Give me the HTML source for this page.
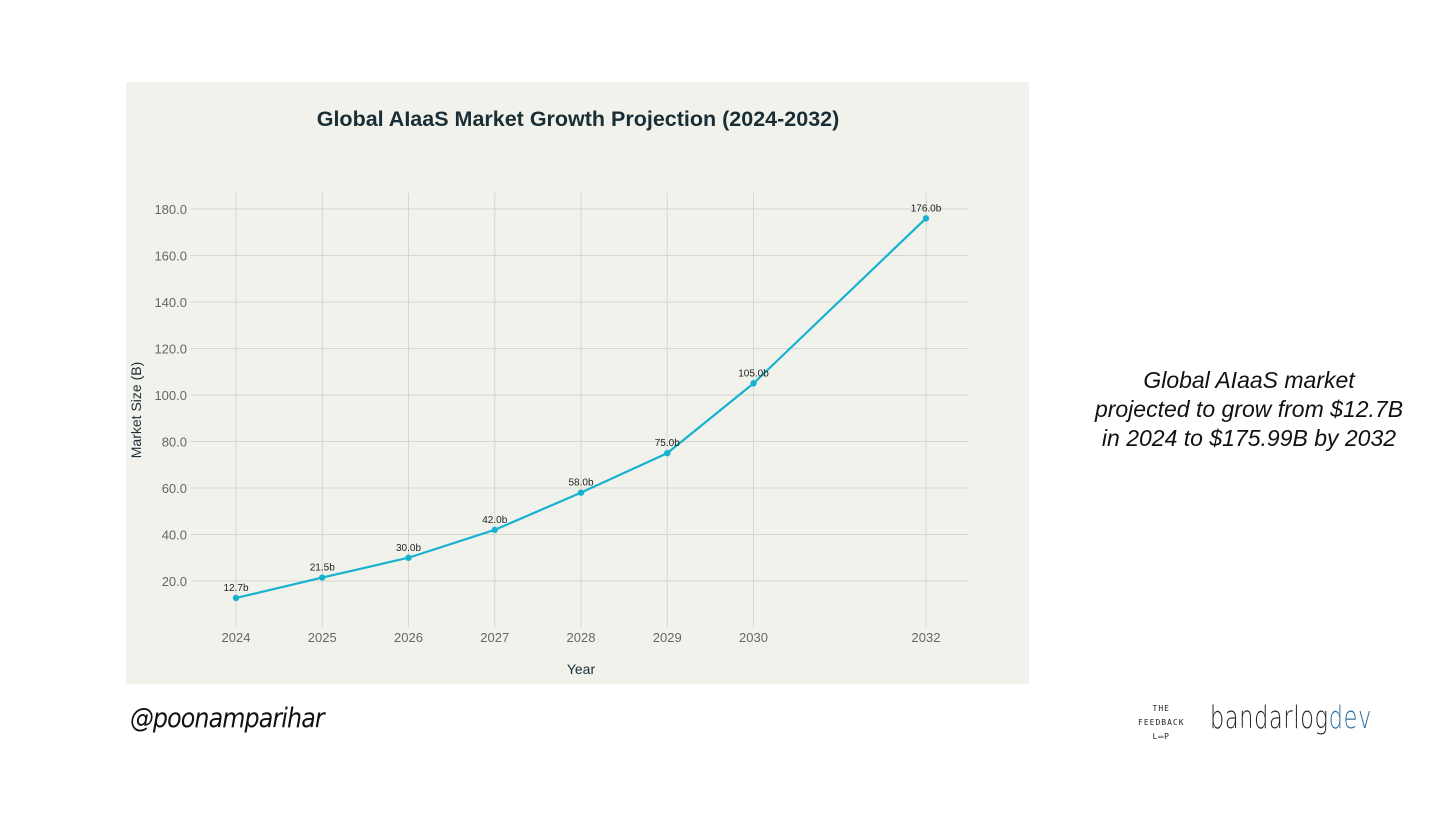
<!DOCTYPE html>
<html><head><meta charset="utf-8"><style>
body{margin:0;width:1456px;height:819px;background:#fff;position:relative;overflow:hidden;font-family:"Liberation Sans",sans-serif}
#panel{position:absolute;left:126px;top:82px;width:903px;height:602px;background:#f2f2ed}
.cap{position:absolute;left:1049px;top:366px;width:400px;text-align:center;font-style:italic;font-size:23px;line-height:29px;color:#111}
</style></head><body>
<div id="panel"></div>
<svg width="1456" height="819" style="position:absolute;left:0;top:0" id="chart">
<text x="578" y="126" text-anchor="middle" font-size="21.5" font-weight="bold" fill="#1a2e35">Global AIaaS Market Growth Projection (2024-2032)</text>
<text x="581" y="674" text-anchor="middle" font-size="14" fill="#1a2e35">Year</text>
<text transform="translate(141,410) rotate(-90)" text-anchor="middle" font-size="14" fill="#1a2e35">Market Size (B)</text>
<g id="grid"></g><g id="series"></g>
</svg>
<div class="cap">Global AIaaS market<br>projected to grow from $12.7B<br>in 2024 to $175.99B by 2032</div>
<div style="position:absolute;left:130px;top:703px;font-size:27px;font-style:italic;font-family:'DejaVu Sans',sans-serif;color:#111;letter-spacing:-1px;transform:scaleX(0.88);transform-origin:left">@poonamparihar</div>
<div style="position:absolute;left:1138px;top:702px;font-size:8px;line-height:14px;text-align:center;letter-spacing:1px;font-family:'DejaVu Sans Mono',monospace;color:#222">THE<br>FEEDBACK<br>L▭P</div>
<div style="position:absolute;left:1210px;top:700px;font-size:31px;color:#222;font-family:'DejaVu Sans',sans-serif;font-weight:200;letter-spacing:1px;transform:scaleX(0.72);transform-origin:left">bandarlog<span style="color:#2e6e9e">dev</span></div>
<script>
const years=[2024,2025,2026,2027,2028,2029,2030,2032];
const values=[12.7,21.5,30.0,42.0,58.0,75.0,105.0,176.0];
const labels=["12.7b","21.5b","30.0b","42.0b","58.0b","75.0b","105.0b","176.0b"];
const yTicks=[20,40,60,80,100,120,140,160,180];
const ns="http://www.w3.org/2000/svg";
const x=v=>236+(v-2024)*86.25;
const y=v=>627.5-v*2.325;
function mk(t,a,p){const e=document.createElementNS(ns,t);for(const k in a)e.setAttribute(k,a[k]);p.appendChild(e);return e;}
const g=document.getElementById('grid'),s=document.getElementById('series');
yTicks.forEach(t=>{
 const l=mk('line',{x1:191,x2:968,y1:y(t),y2:y(t),stroke:'#d6d6d0','stroke-width':1},g);
 
 
 const tx=mk('text',{x:187,y:y(t)+5,'text-anchor':'end','font-size':13,fill:'#666'},g);tx.textContent=t.toFixed(1);
 
 
});
years.forEach(yr=>{
 const l=mk('line',{x1:x(yr),x2:x(yr),y1:193,y2:627,stroke:'#d6d6d0','stroke-width':1},g);
 
 
 const tx=mk('text',{x:x(yr),y:642,'text-anchor':'middle','font-size':13,fill:'#666'},g);tx.textContent=yr;
 
 
});
const line=mk('polyline',{points:years.map((yr,i)=>x(yr)+','+y(values[i])).join(' '),fill:'none',stroke:'#17b2cf','stroke-width':2.2},s);


years.forEach((yr,i)=>{
 const c=mk('circle',{cx:x(yr),cy:y(values[i]),r:3.2,fill:'#17b2cf'},s);
 
 
 const t=mk('text',{x:x(yr),y:y(values[i])-7,'text-anchor':'middle','font-size':10,fill:'#222'},s);t.textContent=labels[i];
 
 
});
</script>
</body></html>
